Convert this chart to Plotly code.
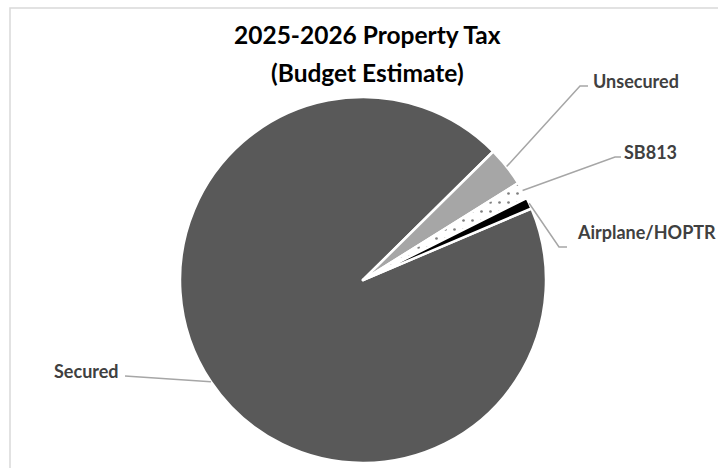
import math
import plotly.graph_objects as go

# Property tax budget estimate, share of total (%)
labels = ["Secured", "Unsecured", "SB813", "Airplane/HOPTR"]
values = [94.0, 3.5, 1.5, 1.0]
colors = ["#595959", "#a6a6a6", "#ffffff", "#000000"]
patterns = ["", "", ".", ""]

title_lines = ["2025-2026 Property Tax", "(Budget Estimate)"]

W, H = 718, 468
CX, CY, R = 363, 280, 183          # pie centre and radius (px)
START = 67                          # first slice start, degrees clockwise from 12 o'clock

# label anchor (px), elbow point of the leader (px), text anchor side
label_layout = {
    "Secured":        dict(text_xy=(121, 371), elbow=None,       xanchor="right"),
    "Unsecured":      dict(text_xy=(591, 81),  elbow=(580, 86),  xanchor="left",  tail=(588, 86)),
    "SB813":          dict(text_xy=(622, 152), elbow=(615, 157), xanchor="left",  tail=(621, 157)),
    "Airplane/HOPTR": dict(text_xy=(575, 232), elbow=(559, 247), xanchor="left",  tail=(567, 247)),
}


def px(x):
    return x / W


def py(y):
    return 1 - y / H


fig = go.Figure(
    go.Pie(
        labels=labels,
        values=values,
        sort=False,
        direction="clockwise",
        rotation=START,
        textinfo="none",
        hoverinfo="label+percent",
        marker=dict(
            colors=colors,
            line=dict(color="#ffffff", width=2.5),
            pattern=dict(shape=patterns, fgcolor="#000000", bgcolor="#ffffff",
                         size=9, solidity=0.07, fillmode="overlay"),
        ),
        domain=dict(x=[px(CX - R), px(CX + R)], y=[py(CY + R), py(CY - R)]),
        showlegend=False,
    )
)

shapes = []
annotations = []

# leader lines start at each slice's outer edge, at the slice mid-angle
total = sum(values)
angle = START
for lab, val in zip(labels, values):
    sweep = val / total * 360
    mid = math.radians(angle + sweep / 2)
    angle += sweep
    sx, sy = CX + R * math.sin(mid), CY - R * math.cos(mid)
    cfg = label_layout[lab]
    tx, ty = cfg["text_xy"]
    if cfg["elbow"] is None:
        pts = [(sx, sy), (tx + 4, ty + 5)]
    else:
        pts = [(sx, sy), cfg["elbow"], cfg["tail"]]
    path = "M " + " L ".join(f"{px(a):.5f},{py(b):.5f}" for a, b in pts)
    shapes.append(dict(type="path", xref="paper", yref="paper", path=path,
                       line=dict(color="#a6a6a6", width=1.5)))
    annotations.append(dict(x=px(tx), y=py(ty), xref="paper", yref="paper",
                            text=f"<b>{lab}</b>", showarrow=False,
                            xanchor=cfg["xanchor"], yanchor="middle",
                            font=dict(family="Lato", size=18, color="#404040")))

# chart title
for line, yy in zip(title_lines, (35, 72)):
    annotations.append(dict(x=px(367), y=py(yy), xref="paper", yref="paper",
                            text=f"<b>{line}</b>", showarrow=False,
                            xanchor="center", yanchor="middle",
                            font=dict(family="Lato", size=24.5, color="#000000")))

# chart-area frame (top and left edges visible)
shapes.append(dict(type="rect", xref="paper", yref="paper",
                   x0=px(10), y0=py(H + 20), x1=px(W + 20), y1=py(8),
                   line=dict(color="#d9d9d9", width=1.5), fillcolor="rgba(0,0,0,0)"))

fig.update_layout(
    width=W, height=H,
    margin=dict(l=0, r=0, t=0, b=0),
    paper_bgcolor="#ffffff",
    plot_bgcolor="#ffffff",
    shapes=shapes,
    annotations=annotations,
)

fig.write_html("out.html")
